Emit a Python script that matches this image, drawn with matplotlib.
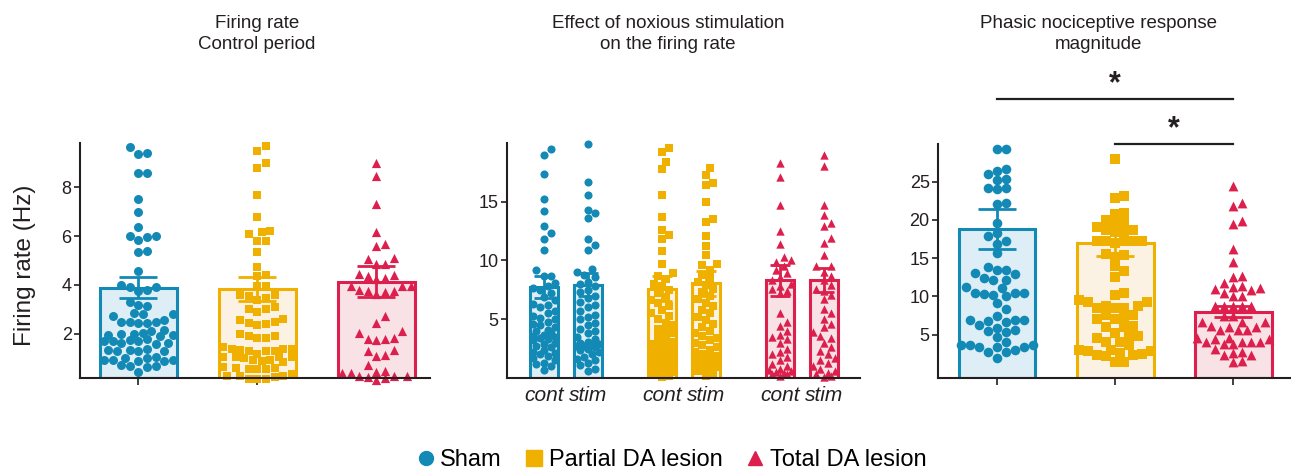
import numpy as np
import matplotlib
matplotlib.use("Agg")
import matplotlib.pyplot as plt
from matplotlib.lines import Line2D

plt.rcParams['font.family'] = ['Liberation Sans', 'DejaVu Sans']

# colours
blue, gold, red = "#1389b5", "#f0b000", "#dc1f4c"
fills = ["#deeef6", "#fcf2e3", "#f8e2e6"]
cols = [blue, gold, red]
marks = ["o", "s", "^"]
groups = ["Sham", "Partial DA lesion", "Total DA lesion"]
ink = "#231f20"

# ---- panel 1: firing rate, control period (Hz)
p1_mean = [3.89, 3.84, 4.13]
p1_sem = [0.42, 0.48, 0.63]
p1_sham = [9.62, 9.4, 9.35, 8.56, 8.56, 7.5, 7.0, 6.35, 6.0, 6.0, 5.95, 5.84, 5.38, 5.35,
           4.58, 4.0, 3.9, 3.9, 3.8, 3.75, 3.3, 3.2, 3.15, 2.85, 2.8, 2.8, 2.75, 2.55, 2.5,
           2.5, 2.5, 2.45, 2.45, 2.1, 2.05, 2.0, 1.95, 2.0, 1.95, 2.15, 1.9, 1.8, 1.75, 1.7,
           1.7, 1.65, 1.7, 1.6, 1.65, 1.4, 1.35, 1.3, 1.35, 1.3, 1.3, 1.05, 1.0, 1.0, 0.95,
           0.95, 0.95, 0.9, 0.9, 0.75, 0.7, 0.65, 0.7, 0.45]
p1_partial = [9.67, 9.48, 9.0, 8.76, 7.67, 6.79, 6.1, 6.2, 6.15, 5.8, 5.8, 5.33, 4.75, 4.35,
              4.4, 3.95, 3.95, 3.6, 3.55, 3.6, 3.45, 3.4, 3.1, 3.0, 3.0, 2.9, 2.6, 2.5, 2.55,
              2.4, 2.45, 2.35, 1.9, 1.9, 1.85, 2.0, 1.85, 1.4, 1.3, 1.3, 1.45, 1.4, 1.3, 1.4,
              1.2, 1.35, 1.05, 0.85, 0.95, 1.05, 1.0, 0.95, 1.05, 0.9, 1.05, 0.55, 0.6, 0.55,
              0.65, 0.6, 0.55, 0.35, 0.3, 0.3, 0.3, 0.25, 0.15, 0.15, 0.15]
p1_total = [8.97, 8.45, 7.3, 6.18, 5.6, 5.68, 5.1, 4.85, 4.85, 5.05, 4.35, 4.3, 4.45, 4.25,
            4.4, 3.95, 3.75, 3.95, 3.95, 3.7, 3.8, 3.65, 3.75, 2.72, 2.45, 2.1, 2.05, 1.8,
            1.8, 1.75, 1.85, 1.35, 1.15, 1.3, 1.1, 0.75, 0.4, 0.4, 0.3, 0.45, 0.3, 0.25, 0.3,
            0.5, 0.1, 0.2]

# ---- panel 2: effect of noxious stimulation (Hz), cont / stim per group
p2_labels = ["cont", "stim", "cont", "stim", "cont", "stim"]
p2_mean = [7.77, 7.94, 7.6, 8.05, 8.3, 8.33]
p2_sem = [0.95, 1.0, 1.05, 1.05, 1.35, 1.0]
p2_sham_cont = [19.5, 19.0, 17.4, 15.2, 14.2, 12.9, 12.3, 11.8, 10.9, 9.2, 8.7, 8.7, 8.1, 7.8,
                7.7, 7.5, 7.2, 6.9, 6.6, 6.3, 6.2, 6.0, 5.7, 5.5, 5.3, 5.1, 5.0, 4.8, 4.6, 4.5,
                4.3, 4.1, 4.0, 3.8, 3.7, 3.6, 3.5, 3.4, 3.3, 3.2, 3.0, 2.9, 2.7, 2.6, 2.4, 2.2,
                2.1, 2.0, 1.9, 1.7, 1.5, 1.3, 1.2, 1.0, 0.7]
p2_sham_stim = [19.9, 16.7, 15.6, 14.3, 14.0, 13.6, 11.8, 11.3, 10.9, 9.3, 9.0, 8.8, 8.6, 8.2,
                8.0, 7.8, 7.5, 7.3, 7.0, 6.8, 6.5, 6.2, 6.0, 5.7, 5.4, 5.2, 5.0, 4.7, 4.5, 4.2,
                4.0, 3.8, 3.5, 3.3, 3.1, 3.0, 2.9, 2.8, 2.7, 2.7, 2.6, 2.5, 2.4, 2.2, 2.0, 1.8,
                1.6, 1.5, 1.3, 1.1, 0.8, 0.6]
p2_part_cont = [19.6, 19.2, 18.4, 17.8, 15.6, 13.7, 12.6, 12.2, 11.8, 10.8, 9.7, 8.9, 8.7, 8.4,
                8.0, 7.8, 7.5, 7.2, 6.9, 6.6, 6.4, 6.1, 5.8, 5.5, 5.3, 5.0, 4.7, 4.5, 4.2, 4.0,
                3.8, 3.5, 3.3, 3.1, 2.9, 2.8, 2.6, 2.5, 2.4, 2.3, 2.2, 2.1, 2.0, 1.9, 1.8, 1.7,
                1.6, 1.5, 1.4, 1.3, 1.2, 1.1, 1.0, 0.9, 0.8, 0.7, 0.6, 0.5, 0.4, 0.3, 0.2, 0.1]
p2_part_stim = [17.9, 17.3, 16.6, 16.4, 15.0, 13.5, 13.3, 12.1, 11.2, 10.5, 9.7, 9.6, 9.2, 8.8,
                8.5, 8.2, 7.9, 7.6, 7.3, 7.0, 6.7, 6.4, 6.1, 5.8, 5.5, 5.2, 4.9, 4.6, 4.3, 4.0,
                3.8, 3.6, 3.4, 3.2, 3.0, 2.8, 2.6, 2.4, 2.2, 2.0, 1.9, 1.8, 1.7, 1.6, 1.5, 1.4,
                1.3, 1.2, 1.1, 1.0, 0.9, 0.8, 0.6, 0.4, 0.2]
p2_tot_cont = [18.3, 17.1, 14.7, 12.5, 11.4, 10.3, 10.0, 9.9, 9.5, 9.2, 8.9, 8.6, 8.3, 8.0, 7.8,
               7.6, 7.4, 7.2, 5.5, 4.8, 4.4, 4.0, 3.7, 3.5, 3.3, 3.0, 2.5, 2.2, 2.0, 1.8, 1.5,
               1.2, 1.0, 0.8, 0.7, 0.6, 0.5, 0.4, 0.3, 0.3, 0.2]
p2_tot_stim = [19.0, 18.0, 14.7, 13.9, 13.2, 12.9, 11.9, 11.5, 10.5, 9.5, 9.5, 9.0, 8.7, 8.3,
               7.9, 7.6, 7.4, 7.1, 6.7, 5.9, 5.5, 5.0, 4.6, 4.3, 3.9, 3.6, 3.4, 3.0, 2.6, 2.3,
               2.0, 1.7, 1.5, 1.3, 1.0, 0.8, 0.6, 0.4, 0.3, 0.2, 0.1]

# ---- panel 3: phasic nociceptive response magnitude
p3_mean = [18.8, 17.0, 8.0]
p3_sem = [2.6, 1.7, 0.75]
p3_sham = [29.2, 29.2, 26.4, 26.0, 26.6, 25.3, 25.2, 24.0, 24.2, 24.1, 22.1, 22.2, 19.6, 18.3,
           17.2, 17.9, 16.9, 15.7, 13.8, 13.5, 13.5, 13.0, 12.9, 12.2, 12.4, 12.1, 11.1, 11.2,
           10.5, 10.2, 10.4, 10.3, 10.4, 10.0, 9.1, 8.4, 7.4, 6.9, 6.9, 6.8, 6.9, 5.9, 6.3,
           6.6, 5.5, 5.3, 5.6, 4.7, 3.7, 3.4, 4.1, 3.4, 2.8, 3.0, 3.4, 3.7, 3.7, 2.7, 2.0]
p3_partial = [28.0, 22.8, 23.1, 20.8, 20.0, 20.9, 19.6, 19.7, 18.7, 18.7, 18.4, 19.0, 18.4,
              17.2, 17.2, 17.0, 17.2, 17.2, 17.2, 15.4, 15.6, 15.2, 14.0, 13.3, 12.6, 10.2,
              10.4, 9.3, 9.5, 9.3, 8.8, 8.5, 8.7, 8.5, 8.5, 7.6, 7.0, 7.0, 7.6, 7.2, 6.0, 5.2,
              4.8, 6.0, 6.2, 4.8, 4.6, 4.1, 3.6, 4.0, 3.0, 2.9, 2.6, 2.4, 2.9, 2.5, 3.0, 2.4,
              1.5, 1.5, 2.2]
p3_total = [24.4, 21.8, 22.2, 19.5, 19.8, 16.2, 14.5, 12.7, 12.5, 10.9, 11.1, 11.7, 11.4, 11.2,
            10.0, 11.0, 10.1, 10.5, 8.7, 8.7, 8.7, 8.7, 8.7, 7.4, 7.4, 6.2, 6.0, 6.7, 6.7, 5.6,
            5.6, 5.6, 6.7, 6.0, 4.6, 4.1, 3.8, 4.0, 4.4, 4.4, 3.8, 4.1, 4.6, 4.0, 2.6, 2.4,
            3.2, 2.3, 2.8, 1.4, 1.6]


def swarm(vals, px_y, diam, max_half):
    """beeswarm-like x offsets (pixels) for values, px_y = pixels per data unit"""
    vals = np.asarray(vals, float)
    offs = np.zeros(len(vals))
    placed = []
    step = diam * 0.5
    cands = [0.0]
    k = 1
    while k * step <= max_half:
        cands += [k * step, -k * step]
        k += 1
    for i in np.argsort(vals):
        y = vals[i] * px_y
        best, best_d = 0.0, -1.0
        for c in cands:
            d = min((np.hypot(c - px, y - py) for px, py in placed), default=1e9)
            if d >= diam:
                best = c
                break
            if d > best_d:
                best, best_d = c, d
        offs[i] = best
        placed.append((best, y))
    return offs


def style(ax):
    for s in ["top", "right"]:
        ax.spines[s].set_visible(False)
    for s in ["left", "bottom"]:
        ax.spines[s].set_color(ink)
        ax.spines[s].set_linewidth(1.5)
    ax.tick_params(axis="y", colors=ink, labelsize=13, length=4, width=1.2, pad=2)
    ax.tick_params(axis="x", colors=ink, length=5, width=1.2)


def draw_group(ax, x, vals, mean, sem, i, ylo, px_x, px_y, diam, half, ms, width, cap):
    ax.bar(x, mean - ylo, bottom=ylo, width=width, color=fills[i], edgecolor=cols[i],
           linewidth=2.2, zorder=1)
    off = swarm(vals, px_y, diam, half) / px_x
    ax.scatter(x + off, vals, s=ms, marker=marks[i], color=cols[i], linewidths=0, zorder=2,
               clip_on=False)
    ax.errorbar(x, mean, yerr=sem, color=cols[i], capsize=cap, elinewidth=2.0,
                capthick=2.0, zorder=3)


fig = plt.figure(figsize=(12.91, 4.73), dpi=100)
W, H = 1291, 473

# panel 1
ax1 = fig.add_axes([80 / W, 1 - 378 / H, 350 / W, 235 / H])
ylo1 = 0.2
ax1.set_xlim(-0.49, 2.45)
ax1.set_ylim(ylo1, 9.8)
for i, v in enumerate([p1_sham, p1_partial, p1_total]):
    draw_group(ax1, i, v, p1_mean[i], p1_sem[i], i, ylo1, 119, 24.5, 8.6, 38,
               [42, 34, 44][i], 0.65, 14)
style(ax1)
ax1.set_xticks([0, 1, 2])
ax1.set_xticklabels([])
ax1.set_yticks([2, 4, 6, 8])

# panel 2
ax2 = fig.add_axes([507 / W, 1 - 378 / H, 353 / W, 235 / H])
p2_x = [0, 1, 2.68, 3.68, 5.36, 6.36]
ax2.set_xlim(-0.84, 7.18)
ax2.set_ylim(0, 20)
p2_vals = [p2_sham_cont, p2_sham_stim, p2_part_cont, p2_part_stim, p2_tot_cont, p2_tot_stim]
for j, v in enumerate(p2_vals):
    draw_group(ax2, p2_x[j], v, p2_mean[j], p2_sem[j], j // 2, 0, 44, 11.8, 7.5, 13,
               [34, 28, 36][j // 2], 0.64, 7)
style(ax2)
ax2.set_xticks(p2_x)
ax2.set_xticklabels(p2_labels, fontstyle="italic", fontsize=15)
ax2.tick_params(axis="x", length=0, pad=6)
ax2.set_yticks([5, 10, 15])

# panel 3
ax3 = fig.add_axes([938 / W, 1 - 378 / H, 352 / W, 234 / H])
ylo3 = -0.65
ax3.set_xlim(-0.5, 2.48)
ax3.set_ylim(ylo3, 29.9)
for i, v in enumerate([p3_sham, p3_partial, p3_total]):
    draw_group(ax3, i, v, p3_mean[i], p3_sem[i], i, ylo3, 118, 7.65, 9.0, 38,
               [48, 44, 50][i], 0.65, 14)
style(ax3)
ax3.set_xticks([0, 1, 2])
ax3.set_xticklabels([])
ax3.set_yticks([5, 10, 15, 20, 25])

# significance bars
for (a, b, y) in [(0, 2, 35.8), (1, 2, 29.9)]:
    ax3.plot([a, b], [y, y], color=ink, lw=1.6, clip_on=False)
    ax3.text((a + b) / 2, y, "*", ha="center", va="bottom", fontsize=22,
             fontweight="bold", color=ink, clip_on=False)

# titles and labels
tkw = dict(ha="center", va="center", fontsize=13.5, color=ink, linespacing=1.25)
fig.text(257 / W, 1 - 34 / H, "Firing rate\nControl period", **tkw)
fig.text(668 / W, 1 - 34 / H, "Effect of noxious stimulation\non the firing rate", **tkw)
fig.text(1098 / W, 1 - 34 / H, "Phasic nociceptive response\nmagnitude", **tkw)
fig.text(25 / W, 1 - 265 / H, "Firing rate (Hz)", rotation=90, ha="center", va="center",
         fontsize=17.5, color=ink)

handles = [Line2D([], [], marker=marks[i], color=cols[i], linestyle="none",
                  markersize=[10, 12, 10][i]) for i in range(3)]
fig.legend(handles, groups, loc="center", bbox_to_anchor=(670 / W, 1 - 460 / H), ncol=3,
           frameon=False, fontsize=17, handletextpad=0.1, columnspacing=0.9,
           handlelength=1.0)

fig.savefig("out.png", dpi=100)
